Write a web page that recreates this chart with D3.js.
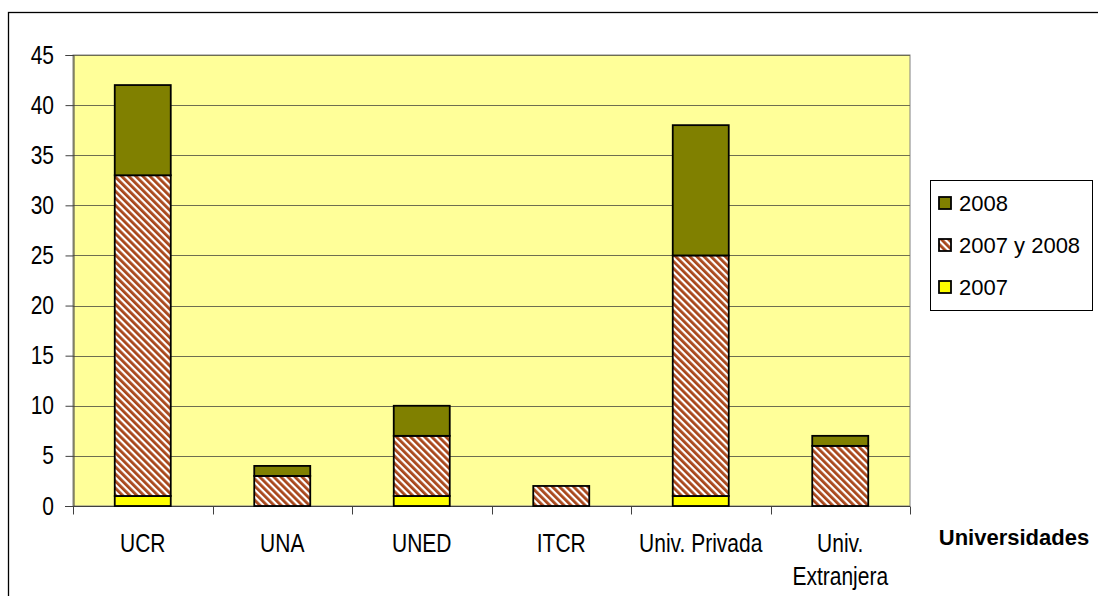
<!DOCTYPE html>
<html>
<head>
<meta charset="utf-8">
<script src="https://cdn.jsdelivr.net/npm/d3@7"></script>
<style>
  html, body { margin: 0; padding: 0; background: #ffffff; }
  svg { display: block; font-family: "Liberation Sans", Arial, sans-serif; }
</style>
</head>
<body>
<svg id="chart" width="1098" height="596"></svg>
<script>
const categories = ["UCR", "UNA", "UNED", "ITCR", "Univ. Privada", "Univ. Extranjera"];
const values2007 = [1, 0, 1, 0, 1, 0];
const valuesBoth = [32, 3, 6, 2, 24, 6];
const values2008 = [9, 1, 3, 0, 13, 1];
const yTicks = [0, 5, 10, 15, 20, 25, 30, 35, 40, 45];

const seriesInfo = [
  { key: "y2007", label: "2007", fill: "#ffff00" },
  { key: "both", label: "2007 y 2008", fill: "url(#hatch)" },
  { key: "y2008", label: "2008", fill: "#808000" }
];

const rows = categories.map((c, i) => ({
  cat: c, y2007: values2007[i], both: valuesBoth[i], y2008: values2008[i]
}));

const svg = d3.select("#chart");
const margin = { top: 55, left: 73, right: 910, bottom: 506 };
const stretch = 1.2;

// hatch pattern for "2007 y 2008"
const defs = svg.append("defs");
const pat = defs.append("pattern")
  .attr("id", "hatch")
  .attr("patternUnits", "userSpaceOnUse")
  .attr("width", 5).attr("height", 5)
  .attr("patternTransform", "rotate(-45)");
pat.append("rect").attr("width", 5).attr("height", 5).attr("fill", "#ffffff");
pat.append("rect").attr("width", 2.8).attr("height", 5).attr("fill", "#a8461a");

// outer chart border (top and left visible)
svg.append("rect")
  .attr("x", 8.5).attr("y", 12.5)
  .attr("width", 1100).attr("height", 600)
  .attr("fill", "none").attr("stroke", "#000").attr("stroke-width", 1.3);

const y = d3.scaleLinear().domain([0, 45]).range([margin.bottom, margin.top]);
const step = (margin.right - margin.left) / categories.length;
const catCenter = (i) => margin.left + (i + 0.5) * step;

// plot background
svg.append("rect")
  .attr("x", margin.left).attr("y", margin.top)
  .attr("width", margin.right - margin.left)
  .attr("height", margin.bottom - margin.top)
  .attr("fill", "#ffff99")
  .attr("stroke", "#808080").attr("stroke-width", 1);

// gridlines
svg.append("g")
  .selectAll("line")
  .data(yTicks.filter(t => t > 0))
  .join("line")
  .attr("x1", margin.left).attr("x2", margin.right)
  .attr("y1", d => Math.round(y(d)) + 0.5).attr("y2", d => Math.round(y(d)) + 0.5)
  .attr("stroke", "#6e6e50").attr("stroke-width", 1);

// y axis
const yAxis = svg.append("g")
  .attr("transform", `translate(${margin.left + 0.5},0)`)
  .call(d3.axisLeft(y).tickValues(yTicks).tickSize(8).tickFormat(""));
yAxis.select(".domain").attr("stroke", "#404040");
yAxis.selectAll(".tick line").attr("stroke", "#404040");

svg.append("g")
  .selectAll("text")
  .data(yTicks)
  .join("text")
  .attr("transform", d => `translate(54,${y(d) + 8.5}) scale(1,${stretch})`)
  .attr("text-anchor", "end")
  .attr("font-size", 21)
  .attr("fill", "#000")
  .text(d => d);

// x axis
const xAxisG = svg.append("g").attr("transform", `translate(0,${margin.bottom + 0.5})`);
xAxisG.append("line")
  .attr("x1", margin.left - 8).attr("x2", margin.right)
  .attr("stroke", "#404040");
xAxisG.selectAll("line.tk")
  .data(d3.range(categories.length + 1))
  .join("line")
  .attr("class", "tk")
  .attr("x1", i => Math.round(margin.left + i * step) + 0.5)
  .attr("x2", i => Math.round(margin.left + i * step) + 0.5)
  .attr("y1", 0).attr("y2", 8)
  .attr("stroke", "#404040");

categories.forEach((c, i) => {
  const parts = c === "Univ. Extranjera" ? ["Univ.", "Extranjera"] : [c];
  parts.forEach((p, k) => {
    svg.append("text")
      .attr("transform", `translate(${catCenter(i)},${552 + k * 33}) scale(1,${stretch})`)
      .attr("text-anchor", "middle")
      .attr("font-size", 21)
      .attr("fill", "#000")
      .text(p);
  });
});

// bars
const stacked = d3.stack().keys(seriesInfo.map(s => s.key))(rows);
const barW = 56;
svg.append("g")
  .selectAll("g")
  .data(stacked)
  .join("g")
  .attr("fill", (d, i) => seriesInfo[i].fill)
  .selectAll("rect")
  .data(d => d.filter(v => v[1] - v[0] > 0))
  .join("rect")
  .attr("x", d => catCenter(categories.indexOf(d.data.cat)) - barW / 2)
  .attr("y", d => y(d[1]))
  .attr("width", barW)
  .attr("height", d => y(d[0]) - y(d[1]))
  .attr("stroke", "#000").attr("stroke-width", 1.8);

// axis title
svg.append("text")
  .attr("x", 1014).attr("y", 545)
  .attr("text-anchor", "middle")
  .attr("font-size", 22).attr("font-weight", "bold")
  .attr("fill", "#000")
  .text("Universidades");

// legend
const lg = svg.append("g");
lg.append("rect")
  .attr("x", 930.5).attr("y", 180.5)
  .attr("width", 162).attr("height", 130)
  .attr("fill", "#fff").attr("stroke", "#000").attr("stroke-width", 1);
const legendItems = seriesInfo.slice().reverse();
const lItem = lg.selectAll("g.item")
  .data(legendItems)
  .join("g")
  .attr("class", "item")
  .attr("transform", (d, i) => `translate(939,${197 + i * 42})`);
lItem.append("rect")
  .attr("width", 12).attr("height", 12)
  .attr("fill", d => d.fill)
  .attr("stroke", "#000").attr("stroke-width", 1.8);
lItem.append("text")
  .attr("x", 20).attr("y", 14)
  .attr("font-size", 22).attr("fill", "#000")
  .text(d => d.label);
</script>
</body>
</html>
